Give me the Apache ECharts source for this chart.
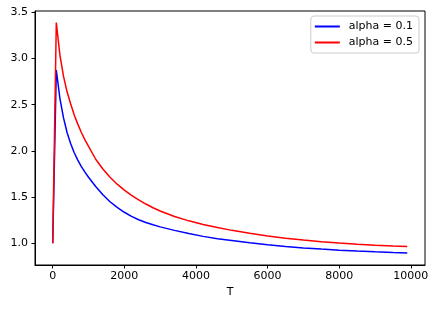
<!DOCTYPE html>
<html>
<head>
<meta charset="utf-8">
<script src="https://cdn.jsdelivr.net/npm/echarts@6/dist/echarts.min.js"></script>
<style>html,body{margin:0;padding:0;background:#fff}#c{width:438px;height:309px}</style>
</head>
<body>
<div id="c"></div>
<script>
const T = [0,100,200,300,400,500,600,700,800,900,1000,1200,1400,1600,1800,2000,2200,2400,2600,2800,3000,3400,3800,4200,4600,5000,5500,6000,6500,7000,7500,8000,8500,9000,9500,9900];
const alpha01 = [1.0,2.876,2.57,2.36,2.20,2.08,1.98,1.90,1.83,1.77,1.715,1.615,1.525,1.45,1.388,1.336,1.292,1.255,1.225,1.20,1.178,1.14,1.105,1.075,1.05,1.03,1.005,0.983,0.965,0.95,0.937,0.926,0.916,0.908,0.901,0.896];
const alpha05 = [1.0,3.39,3.04,2.81,2.64,2.51,2.39,2.29,2.20,2.12,2.05,1.91,1.805,1.715,1.64,1.575,1.52,1.47,1.425,1.385,1.35,1.29,1.243,1.204,1.17,1.14,1.108,1.08,1.055,1.035,1.017,1.002,0.99,0.98,0.971,0.966];
const seriesNames = ['alpha = 0.1','alpha = 0.5'];
const xTicks = [0,2000,4000,6000,8000,10000];
const yTicks = [1.0,1.5,2.0,2.5,3.0,3.5];

const font = 'DejaVu Sans';
const fs = 11;
const chart = echarts.init(document.getElementById('c'), null, {renderer:'canvas'});
chart.setOption({
  animation:false,
  backgroundColor:'#fff',
  grid:{left:35, top:11, width:390, height:254, show:true, borderColor:'#000', borderWidth:1, backgroundColor:'transparent'},
  legend:{
    right:19, top:16, orient:'vertical',
    data:seriesNames.map(n=>({name:n, icon:'rect'})),
    itemWidth:25, itemHeight:2, itemGap:3,
    padding:[4,6,4,4],
    backgroundColor:'#fff', borderColor:'#cccccc', borderWidth:1, borderRadius:3,
    textStyle:{fontFamily:font, fontSize:fs, color:'#000', lineHeight:13, padding:[0,0,0,4]}
  },
  xAxis:{
    type:'value', min:-495, max:10395,
    name:'T', nameLocation:'middle', nameGap:22,
    nameTextStyle:{fontFamily:font, fontSize:fs, color:'#000'},
    axisLine:{show:true, onZero:false, lineStyle:{color:'#000', width:1}},
    axisTick:{show:true, length:3.5, customValues:xTicks, lineStyle:{color:'#000'}},
    axisLabel:{customValues:xTicks, margin:6, fontFamily:font, fontSize:fs, color:'#000', formatter:v=>String(v)},
    splitLine:{show:false}
  },
  yAxis:{
    type:'value', min:0.765, max:3.515,
    axisLine:{show:true, onZero:false, lineStyle:{color:'#000', width:1}},
    axisTick:{show:true, length:3.5, customValues:yTicks, lineStyle:{color:'#000'}},
    axisLabel:{customValues:yTicks, margin:7, fontFamily:font, fontSize:fs, color:'#000', formatter:v=>v.toFixed(1)},
    splitLine:{show:false}
  },
  series:[
    {name:seriesNames[0], type:'line', data:T.map((t,i)=>[t,alpha01[i]]), showSymbol:false, symbol:'none', lineStyle:{color:'#0000ff', width:1.5}, itemStyle:{color:'#0000ff'}},
    {name:seriesNames[1], type:'line', data:T.map((t,i)=>[t,alpha05[i]]), showSymbol:false, symbol:'none', lineStyle:{color:'#ff0000', width:1.5}, itemStyle:{color:'#ff0000'}}
  ]
});
</script>
</body>
</html>
